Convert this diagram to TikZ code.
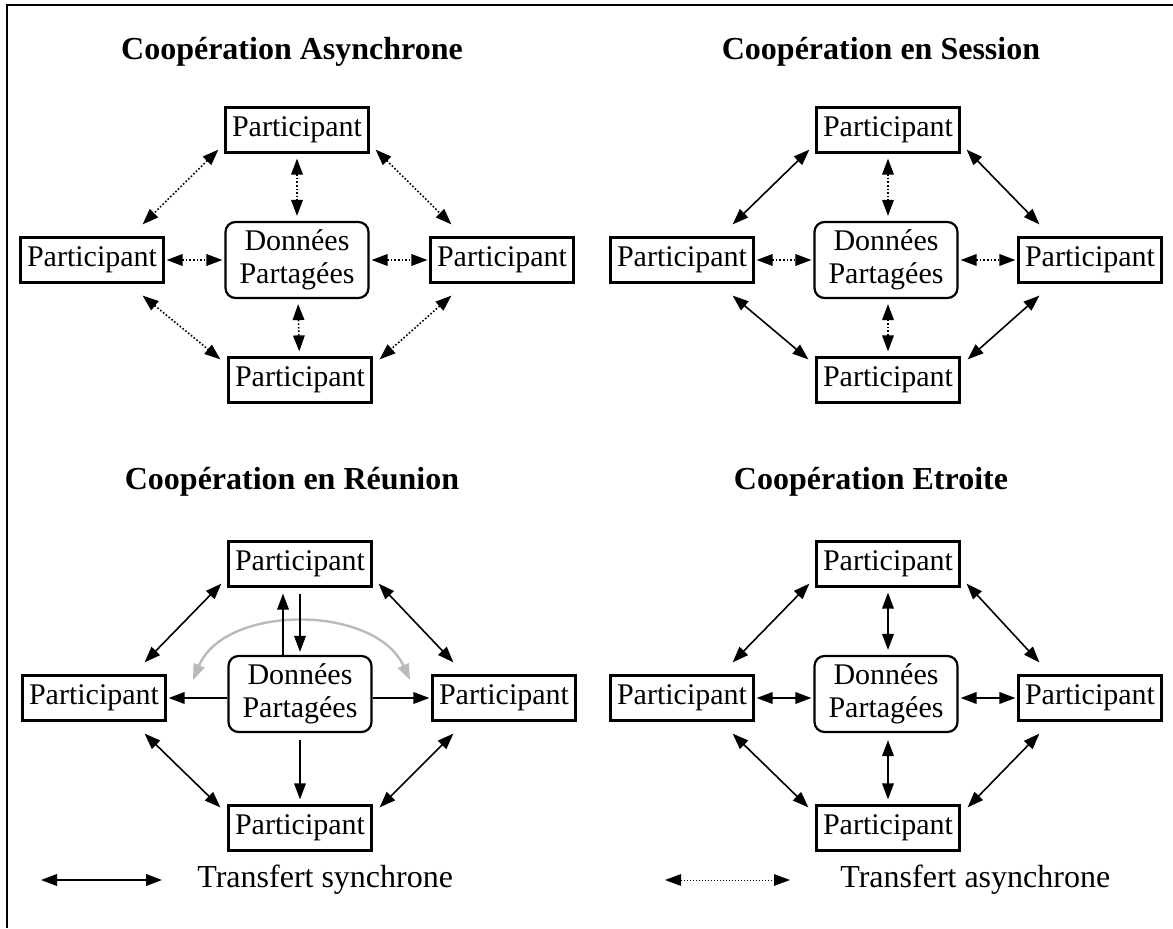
\documentclass[tikz,border=0pt]{standalone}
\usepackage{fontspec}
\setmainfont{Liberation Serif}
\usetikzlibrary{arrows.meta,positioning,calc}

\begin{document}
\begin{tikzpicture}[x=0.5pt, y=0.5pt, >={Triangle[length=8pt,width=5.8pt]}]
    \tikzstyle{part}=[rectangle, draw=black, line width=1.1pt, minimum width=71.5pt, minimum height=22.5pt, inner sep=0pt, font=\fontsize{15}{16.3}\selectfont];
    \tikzstyle{data}=[part, rounded corners=5pt, minimum height=38pt, align=center];
    \tikzstyle{title}=[font=\fontsize{16}{18}\selectfont\bfseries];
    \tikzstyle{legend}=[anchor=west, inner sep=0pt, font=\fontsize{16}{18}\selectfont];
    \tikzstyle{sync}=[line width=0.8pt];
    \tikzstyle{async}=[line width=0.8pt, densely dotted];

    \useasboundingbox (0,0) rectangle (1173,928);
    \draw[line width=0.6pt] (1173,923) -- (7,923) -- (7,0);

    % Cooperation asynchrone
    \node[title] (At) at (292,876) {Coopération Asynchrone};
    \node[data] (Ad) at (297,668) {Données\\Partagées};
    \node[part] (An) at (297,798) {Participant};
    \node[part] (Aw) at (92,668) {Participant};
    \node[part] (Ae) at (502,668) {Participant};
    \node[part] (As) at (300,548) {Participant};
    \draw[async, <->, shorten <=2.5pt, shorten >=2.5pt] (An) -- (Ad);
    \draw[async, <->, shorten <=2.5pt, shorten >=2.5pt] (Ad) -- (As);
    \draw[async, <->, shorten <=1pt, shorten >=1pt] (Aw) -- (Ad);
    \draw[async, <->, shorten <=1pt, shorten >=1pt] (Ad) -- (Ae);
    \draw[async, <->] ($(An.south west)+(-6,4)$) -- ($(Aw.north east)+(-22,12)$);
    \draw[async, <->] ($(An.south east)+(6,4)$) -- ($(Ae.north west)+(22,12)$);
    \draw[async, <->] ($(Aw.south east)+(-22,-12)$) -- ($(As.north west)+(-7,-3)$);
    \draw[async, <->] ($(Ae.south west)+(22,-12)$) -- ($(As.north east)+(7,-3)$);

    % Cooperation en session
    \node[title] (St) at (881,876) {Coopération en Session};
    \node[data] (Sd) at (886,668) {Données\\Partagées};
    \node[part] (Sn) at (888,798) {Participant};
    \node[part] (Sw) at (682,668) {Participant};
    \node[part] (Se) at (1090,668) {Participant};
    \node[part] (Ss) at (888,548) {Participant};
    \draw[async, <->, shorten <=2.5pt, shorten >=2.5pt] (Sn) -- (Sn |- Sd.north);
    \draw[async, <->, shorten <=2.5pt, shorten >=2.5pt] (Ss |- Sd.south) -- (Ss);
    \draw[async, <->, shorten <=1pt, shorten >=1pt] (Sw) -- (Sd);
    \draw[async, <->, shorten <=1pt, shorten >=1pt] (Sd) -- (Se);
    \draw[sync, <->] ($(Sn.south west)+(-6,4)$) -- ($(Sw.north east)+(-22,12)$);
    \draw[sync, <->] ($(Sn.south east)+(6,4)$) -- ($(Se.north west)+(22,12)$);
    \draw[sync, <->] ($(Sw.south east)+(-22,-12)$) -- ($(Ss.north west)+(-7,-3)$);
    \draw[sync, <->] ($(Se.south west)+(22,-12)$) -- ($(Ss.north east)+(7,-3)$);

    % Cooperation en reunion
    \node[title] (Rt) at (292,446) {Coopération en Réunion};
    \coordinate (Rarcw) at (193,248);
    \coordinate (Rarce) at (410,248);
    \draw[black!27, line width=1.2pt, <->] (Rarcw) .. controls (225,324) and (375,324) .. (Rarce);
    \node[data] (Rd) at (300,234) {Données\\Partagées};
    \node[part] (Rn) at (300,364) {Participant};
    \node[part] (Rw) at (94,230) {Participant};
    \node[part] (Re) at (504,230) {Participant};
    \node[part] (Rs) at (300,100) {Participant};
    \draw[sync, ->, shorten >=3pt] ([xshift=-8.5pt]Rd.north) -- ([xshift=-8.5pt]Rn.south);
    \draw[sync, ->, shorten <=3pt, shorten >=1.5pt] (Rn.south) -- (Rd.north);
    \draw[sync, ->, shorten <=3.5pt, shorten >=2.5pt] (Rd.south) -- (Rs.north);
    \draw[sync, ->, shorten >=1pt] (Rd.west |- Rw) -- (Rw.east);
    \draw[sync, ->, shorten >=1pt] (Rd.east |- Re) -- (Re.west);
    \draw[sync, <->] ($(Rn.south west)+(-6,4)$) -- ($(Rw.north east)+(-22,12)$);
    \draw[sync, <->] ($(Rn.south east)+(6,4)$) -- ($(Re.north west)+(22,12)$);
    \draw[sync, <->] ($(Rw.south east)+(-22,-12)$) -- ($(Rs.north west)+(-7,-3)$);
    \draw[sync, <->] ($(Re.south west)+(22,-12)$) -- ($(Rs.north east)+(7,-3)$);

    % Cooperation etroite
    \node[title] (Et) at (871,446) {Coopération Etroite};
    \node[data] (Ed) at (886,234) {Données\\Partagées};
    \node[part] (En) at (888,364) {Participant};
    \node[part] (Ew) at (682,230) {Participant};
    \node[part] (Ee) at (1090,230) {Participant};
    \node[part] (Es) at (888,100) {Participant};
    \draw[sync, <->, shorten <=2.5pt, shorten >=2.5pt] (En) -- (En |- Ed.north);
    \draw[sync, <->, shorten <=3.5pt, shorten >=2.5pt] (Es |- Ed.south) -- (Es);
    \draw[sync, <->, shorten <=1pt, shorten >=1pt] (Ew.east) -- (Ed.west |- Ew);
    \draw[sync, <->, shorten <=1pt, shorten >=1pt] (Ed.east |- Ee) -- (Ee.west);
    \draw[sync, <->] ($(En.south west)+(-6,4)$) -- ($(Ew.north east)+(-22,12)$);
    \draw[sync, <->] ($(En.south east)+(6,4)$) -- ($(Ee.north west)+(22,12)$);
    \draw[sync, <->] ($(Ew.south east)+(-22,-12)$) -- ($(Es.north west)+(-7,-3)$);
    \draw[sync, <->] ($(Ee.south west)+(22,-12)$) -- ($(Es.north east)+(7,-3)$);

    % legende
    \coordinate (ls1) at (41,48);
    \coordinate (ls2) at (162,48);
    \draw[line width=1pt, <->] (ls1) -- (ls2);
    \node[legend] (lst) at (197,48) {Transfert synchrone};
    \coordinate (la1) at (665,48);
    \coordinate (la2) at (790,48);
    \draw[line width=0.5pt, densely dotted, <->] (la1) -- (la2);
    \node[legend] (lat) at (840,48) {Transfert asynchrone};
\end{tikzpicture}
\end{document}
